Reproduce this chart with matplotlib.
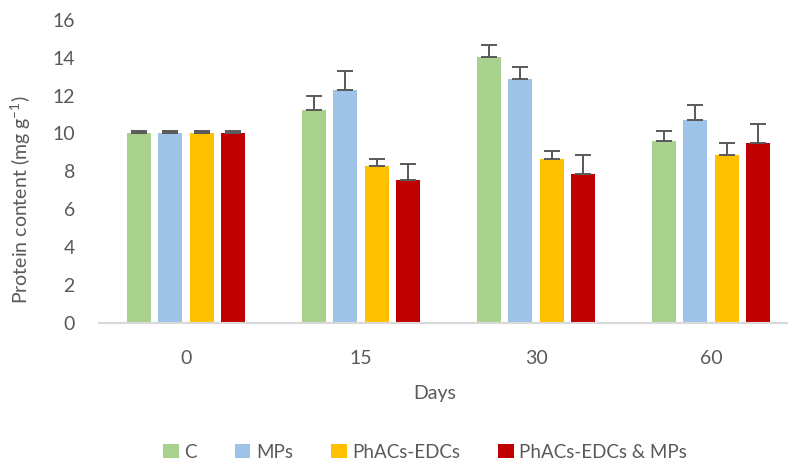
"""
protein content bar chart - grouped bars with one-sided error bars
"""

import numpy as np
import matplotlib.pyplot as plt
import matplotlib as mpl

mpl.rcParams['font.family'] = ['Lato', 'DejaVu Sans']
mpl.rcParams['mathtext.fontset'] = 'custom'
mpl.rcParams['mathtext.rm'] = 'Lato'

# data
days = ['0', '15', '30', '60']
series = ['C', 'MPs', 'PhACs-EDCs', 'PhACs-EDCs & MPs']
c_vals = [10.0, 11.25, 14.05, 9.6]
mps_vals = [10.0, 12.3, 12.9, 10.7]
phacs_vals = [10.0, 8.3, 8.65, 8.85]
both_vals = [10.0, 7.55, 7.85, 9.5]
c_err = [0.15, 0.72, 0.63, 0.53]
mps_err = [0.15, 1.0, 0.63, 0.83]
phacs_err = [0.15, 0.34, 0.44, 0.62]
both_err = [0.15, 0.83, 0.99, 1.0]

colors = ['#A9D18E', '#9DC3E6', '#FFC000', '#C00000']
grey = '#595959'

fig = plt.figure(figsize=(7.88, 4.65), dpi=100)
ax = fig.add_axes([98.5/788, 1-322.5/465, 700/788, 302.5/465])

x = np.arange(len(days))
pitch = 0.18
width = 0.139
vals = [c_vals, mps_vals, phacs_vals, both_vals]
errs = [c_err, mps_err, phacs_err, both_err]

for i in range(4):
    pos = x + (i - 1.5)*pitch
    ax.bar(pos, vals[i], width, color=colors[i], label=series[i], zorder=2)
    ax.errorbar(pos, vals[i], yerr=[np.zeros(4), errs[i]], fmt='none',
                ecolor=grey, elinewidth=1.4, capsize=6, capthick=1.4, zorder=3)

ax.set_xlim(-0.5, 3.5)
ax.set_ylim(0, 16)
ax.set_yticks(range(0, 17, 2))
ax.set_xticks(x)
ax.set_xticklabels(days)
ax.tick_params(axis='both', length=0, labelsize=14, labelcolor=grey)
ax.tick_params(axis='y', pad=17)
ax.tick_params(axis='x', pad=20)

for s in ['top', 'right', 'left']:
    ax.spines[s].set_visible(False)
ax.spines['bottom'].set_color('#D9D9D9')
ax.spines['bottom'].set_linewidth(1.5)
ax.spines['bottom'].set_zorder(4)

fig.text(21/788, 1-200/465, 'Protein content (mg g$\\mathregular{^{-1}}$)',
         rotation=90, ha='center', va='center', fontsize=14, color=grey)
fig.text(435/788, 1-393/465, 'Days', ha='center', va='center', fontsize=14, color=grey)

fig.legend(loc='center', bbox_to_anchor=(425/788, 1-452/465), ncol=4, frameon=False,
           fontsize=13.5, labelcolor=grey, handlelength=0.85, handleheight=0.85,
           handletextpad=0.3, columnspacing=2.0)

plt.savefig('out.png', dpi=100)
